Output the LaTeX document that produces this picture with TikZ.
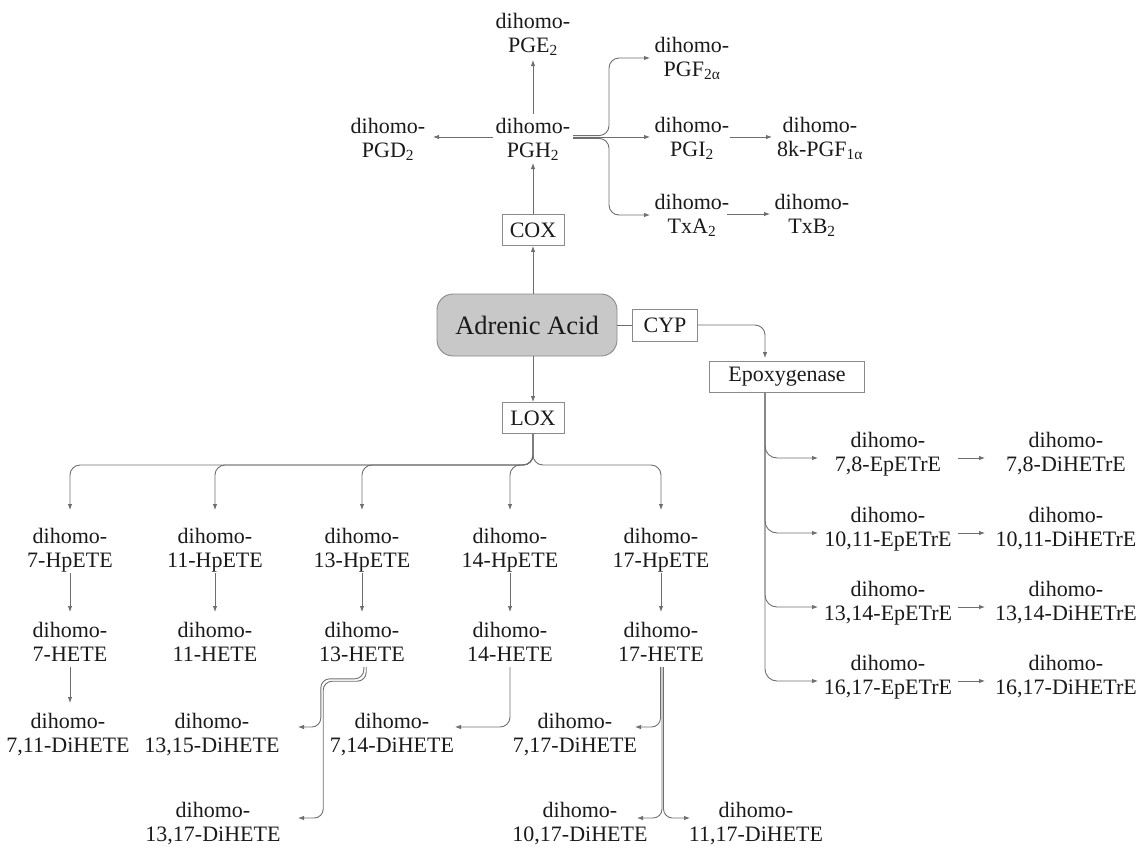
\documentclass[tikz,border=0pt]{standalone}
\usepackage{fontspec}
\setmainfont{Liberation Serif}
\usetikzlibrary{arrows.meta,calc}
\definecolor{lncol}{HTML}{6E6E6E}
\definecolor{txcol}{HTML}{1A1A1A}
\definecolor{aafill}{HTML}{C8C8C8}
\definecolor{boxcol}{HTML}{8A8A8A}
\begin{document}
\begin{tikzpicture}[x=1pt,y=-1pt,
  font=\fontsize{22}{24}\selectfont,
  chem/.style={align=center, inner sep=0pt, text=txcol},
  enz/.style={draw=boxcol, line width=0.9pt, inner sep=0pt, minimum height=31pt, text=txcol},
  arr/.style={draw=lncol, line width=0.9pt, -{Latex[length=6pt,width=4.5pt]}},
  plain/.style={draw=lncol, line width=0.9pt}]
\useasboundingbox (0,0) rectangle (1145,852);

% ---------- COX branch ----------
\node[chem] (pge) at (533,34) {dihomo-\\PGE\textsubscript{2}};
\node[chem] (pgh) at (533,139) {dihomo-\\PGH\textsubscript{2}};
\node[chem] (pgd) at (388,139) {dihomo-\\PGD\textsubscript{2}};
\node[chem] (pgf) at (692,58) {dihomo-\\PGF\textsubscript{2α}};
\node[chem] (pgi) at (692,138) {dihomo-\\PGI\textsubscript{2}};
\node[chem] (txa) at (692,215) {dihomo-\\TxA\textsubscript{2}};
\node[chem] (pgk) at (820,138) {dihomo-\\8k-PGF\textsubscript{1α}};
\node[chem] (txb) at (812,215) {dihomo-\\TxB\textsubscript{2}};

\node[enz, minimum width=62pt] (cox) at (533,230) {COX};
\node[draw=boxcol, fill=aafill, line width=0.9pt, rounded corners=16pt,
      minimum width=180pt, minimum height=62pt, inner sep=0pt, text=txcol,
      font=\fontsize{26.5}{28}\selectfont] (aa) at (527,325) {Adrenic Acid};
\node[enz, minimum width=65pt, minimum height=32pt] (cyp) at (665,325) {CYP};
\node[enz, minimum width=155pt] (epo) at (787,377) {Epoxygenase};
\node[enz, minimum width=62pt] (lox) at (533,418) {LOX};

\draw[arr] ($(pgh)+(0,-25)$) -- ($(pge)+(0,26)$);
\draw[arr] ($(pgh)+(-40,-2)$) -- ($(pgd)+(45,-2)$);
\draw[arr] (aa.north -| cox) -- (cox.south);
\draw[arr] (cox.north) -- ($(pgh)+(0,24)$);

\coordinate (ps) at ($(pgh)+(40,-2)$);
\draw[arr, rounded corners=10pt] ($(ps)+(0,-1.4)$) -| ($(pgf)+(-83,0)$) -- ($(pgf)+(-42,0)$);
\draw[arr] (ps) -- ($(pgi)+(-42,-1)$);
\draw[arr, rounded corners=10pt] ($(ps)+(0,1.4)$) -| ($(txa)+(-83,0)$) -- ($(txa)+(-42,0)$);
\draw[arr] ($(pgi)+(38,-1)$) -- ($(pgk)+(-48,-1)$);
\draw[arr] ($(txa)+(35,-1)$) -- ($(txb)+(-42,-1)$);

% ---------- CYP branch ----------
\draw[plain] (aa.east) -- (cyp.west);
\draw[arr, rounded corners=10pt, shorten >=3pt] (cyp.east) -| ($(epo.north)+(-22,0)$);

\node[chem] (ep78) at (888,454) {dihomo-\\7,8-EpETrE};
\node[chem] (ep1011) at (888,529) {dihomo-\\10,11-EpETrE};
\node[chem] (ep1314) at (888,603) {dihomo-\\13,14-EpETrE};
\node[chem] (ep1617) at (888,677) {dihomo-\\16,17-EpETrE};
\node[chem] (dh78) at (1066,454) {dihomo-\\7,8-DiHETrE};
\node[chem] (dh1011) at (1066,529) {dihomo-\\10,11-DiHETrE};
\node[chem] (dh1314) at (1066,603) {dihomo-\\13,14-DiHETrE};
\node[chem] (dh1617) at (1066,677) {dihomo-\\16,17-DiHETrE};

\foreach \e/\d in {ep78/dh78, ep1011/dh1011, ep1314/dh1314, ep1617/dh1617}{
  \draw[arr, rounded corners=12pt] ($(epo.south)+(-22,0)$) |- ($(\e)+(-70,4)$);
  \draw[arr] ($(\e)+(70,4)$) -- ($(\d)+(-81,4)$);
}

% ---------- LOX branch ----------
\draw[arr] (aa.south -| lox) -- (lox.north);

\node[chem] (hp7) at (70,550) {dihomo-\\7-HpETE};
\node[chem] (hp11) at (215,550) {dihomo-\\11-HpETE};
\node[chem] (hp13) at (362,550) {dihomo-\\13-HpETE};
\node[chem] (hp14) at (510,550) {dihomo-\\14-HpETE};
\node[chem] (hp17) at (661,550) {dihomo-\\17-HpETE};
\node[chem] (he7) at (70,642) {dihomo-\\7-HETE};
\node[chem] (he11) at (215,642) {dihomo-\\11-HETE};
\node[chem] (he13) at (362,642) {dihomo-\\13-HETE};
\node[chem] (he14) at (510,642) {dihomo-\\14-HETE};
\node[chem] (he17) at (661,642) {dihomo-\\17-HETE};

\node[chem] (di711) at (68,735) {dihomo-\\7,11-DiHETE};
\node[chem] (di1315) at (212,735) {dihomo-\\13,15-DiHETE};
\node[chem] (di714) at (392,735) {dihomo-\\7,14-DiHETE};
\node[chem] (di717) at (575,735) {dihomo-\\7,17-DiHETE};
\node[chem] (di1317) at (213,824) {dihomo-\\13,17-DiHETE};
\node[chem] (di1017) at (580,824) {dihomo-\\10,17-DiHETE};
\node[chem] (di1117) at (756,824) {dihomo-\\11,17-DiHETE};

\foreach \a/\b in {hp7/he7, hp11/he11, hp13/he13, hp14/he14, hp17/he17}{
  \draw[arr, rounded corners=10pt] (lox.south) |- ($(\a)+(0,-85)$) -- ($(\a)+(0,-40)$);
  \draw[arr] ($(\a)+(0,23)$) -- ($(\b)+(0,-30)$);
}
\draw[arr] ($(he7)+(0,25)$) -- ($(he7 |- di711)+(0,-32)$);

% 13-HETE (double line)
\draw[arr, rounded corners=9pt] ($(he13)+(1.8,25)$) |- ($(he13)+(-41.2,36.8)$) |- ($(di1315)+(86,-8)$);
\draw[arr, rounded corners=9pt] ($(he13)+(4.2,25)$) |- ($(he13)+(-38.8,39.2)$) |- ($(di1317)+(85,-6)$);

% 14-HETE
\draw[arr, rounded corners=10pt] ($(he14)+(0,25)$) |- ($(di714)+(63,-8)$);

% 17-HETE (triple line)
\draw[arr, rounded corners=9pt] ($(he17)+(-0.5,25)$) |- ($(di717)+(60,-8)$);
\draw[arr, rounded corners=9pt] ($(he17)+(1,25)$) |- ($(di1017)+(57,-6)$);
\draw[arr, rounded corners=9pt] ($(he17)+(2.5,25)$) |- ($(di1117)+(-66,-6)$);

\end{tikzpicture}
\end{document}
